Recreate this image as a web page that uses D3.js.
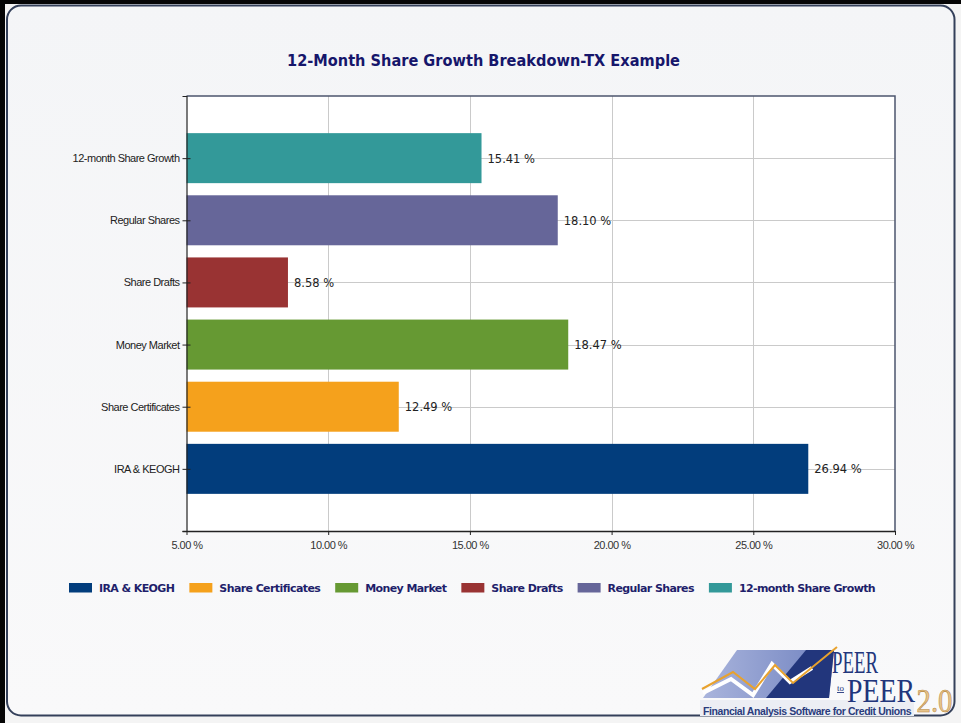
<!DOCTYPE html>
<html>
<head>
<meta charset="utf-8">
<script src="https://cdn.jsdelivr.net/npm/d3@7"></script>
<style>
  html, body { margin: 0; padding: 0; background: #f2f2f2; }
  svg { display: block; }
</style>
</head>
<body>
<svg id="chart" width="961" height="723"></svg>
<script>
// Share growth by account type (bottom-to-top order, same as legend order)
const categories = ["IRA & KEOGH", "Share Certificates", "Money Market", "Share Drafts", "Regular Shares", "12-month Share Growth"];
const growthPct = [26.94, 12.49, 18.47, 8.58, 18.10, 15.41];
const seriesColors = ["#023d7c", "#f5a11c", "#669933", "#993333", "#666699", "#339999"];
const xTickValues = [5, 10, 15, 20, 25, 30];
const titleText = "12-Month Share Growth Breakdown-TX Example";

const svg = d3.select("#chart");
const W = 961, H = 723;

// ---- outer frame and rounded panel ----
svg.append("rect").attr("x", 0).attr("y", 0).attr("width", W).attr("height", H).attr("fill", "#f4f4f4");
svg.append("rect").attr("x", 0).attr("y", 0).attr("width", W).attr("height", 4).attr("fill", "#050505");
svg.append("rect").attr("x", 0).attr("y", 0).attr("width", 5).attr("height", H).attr("fill", "#050505");

const defs = svg.append("defs");
const bg = defs.append("linearGradient").attr("id", "panelBg").attr("x1", 0).attr("y1", 0).attr("x2", 0).attr("y2", 1);
bg.append("stop").attr("offset", "0%").attr("stop-color", "#f4f5f7");
bg.append("stop").attr("offset", "100%").attr("stop-color", "#f9f9fa");

svg.append("rect")
  .attr("x", 7).attr("y", 5.5).attr("width", 947.5).attr("height", 710)
  .attr("rx", 14).attr("ry", 14)
  .attr("fill", "url(#panelBg)")
  .attr("stroke", "#34405a").attr("stroke-width", 2);

// ---- title ----
svg.append("text")
  .attr("x", 483.5).attr("y", 66)
  .attr("text-anchor", "middle")
  .attr("font-family", "DejaVu Sans, Verdana, sans-serif")
  .attr("font-weight", "bold")
  .attr("font-size", 15)
  .attr("fill", "#16166b")
  .attr("textLength", 393)
  .attr("lengthAdjust", "spacingAndGlyphs")
  .text(titleText);

// ---- plot area ----
const plot = { left: 186.5, right: 895, top: 96, bottom: 531 };

const x = d3.scaleLinear().domain([5, 30]).range([plot.left, plot.right]);
const y = d3.scalePoint().domain(categories.slice().reverse()).range([plot.top, plot.bottom]).padding(1);
const barH = 50;

svg.append("rect")
  .attr("x", plot.left).attr("y", plot.top)
  .attr("width", plot.right - plot.left).attr("height", plot.bottom - plot.top)
  .attr("fill", "#ffffff");

// grid lines
const grid = svg.append("g").attr("stroke", "#cacaca").attr("stroke-width", 1);
grid.selectAll("line.v").data(xTickValues.slice(1, -1)).join("line")
  .attr("x1", d => Math.round(x(d)) + 0.5).attr("x2", d => Math.round(x(d)) + 0.5)
  .attr("y1", plot.top).attr("y2", plot.bottom);
grid.selectAll("line.h").data(categories).join("line")
  .attr("x1", plot.left).attr("x2", plot.right)
  .attr("y1", d => Math.round(y(d)) + 0.5).attr("y2", d => Math.round(y(d)) + 0.5);

// bars
svg.append("g").selectAll("rect").data(categories).join("rect")
  .attr("x", plot.left)
  .attr("y", d => y(d) - barH / 2)
  .attr("width", (d, i) => x(growthPct[i]) - plot.left)
  .attr("height", barH)
  .attr("fill", (d, i) => seriesColors[i]);

// value labels
const fmtPct = d3.format(".2f");
svg.append("g").selectAll("text").data(categories).join("text")
  .attr("x", (d, i) => x(growthPct[i]) + 6)
  .attr("y", d => y(d) + 4.5)
  .attr("font-family", "DejaVu Sans, Verdana, sans-serif")
  .attr("font-size", 11.5)
  .attr("fill", "#222222")
  .text((d, i) => fmtPct(growthPct[i]) + " %");

// top and right frame
svg.append("path")
  .attr("d", `M${plot.left},${plot.top}H${plot.right}V${plot.bottom}`)
  .attr("fill", "none").attr("stroke", "#4c566e").attr("stroke-width", 1.5);

// y axis
const yAxis = svg.append("g")
  .attr("transform", `translate(${plot.left},0)`)
  .call(d3.axisLeft(y).tickSizeInner(4).tickSizeOuter(4).tickPadding(3));
yAxis.select(".domain").attr("stroke", "#222").attr("stroke-width", 1.2);
yAxis.selectAll(".tick line").attr("x1", 4).attr("stroke", "#222");
yAxis.selectAll(".tick text")
  .attr("font-family", "Liberation Sans, Arial, sans-serif")
  .attr("font-size", 11)
  .attr("letter-spacing", "-0.5px")
  .attr("fill", "#222");

// x axis
const xAxis = svg.append("g")
  .attr("transform", `translate(0,${plot.bottom})`)
  .call(d3.axisBottom(x).tickValues(xTickValues).tickFormat(d => fmtPct(d) + " %")
    .tickSizeInner(4).tickSizeOuter(0).tickPadding(6));
xAxis.select(".domain").attr("stroke", "#222").attr("stroke-width", 1.5)
  .attr("d", `M${plot.left - 4},0.5H${plot.right}`);
xAxis.selectAll(".tick line").attr("stroke", "#222");
xAxis.selectAll(".tick text")
  .attr("font-family", "Liberation Sans, Arial, sans-serif")
  .attr("font-size", 11)
  .attr("letter-spacing", "-0.5px")
  .attr("fill", "#333");

// ---- legend ----
const legend = svg.append("g").attr("transform", "translate(69,583)");
let lx = 0;
categories.forEach((name, i) => {
  const item = legend.append("g").attr("transform", `translate(${lx},0)`);
  item.append("rect").attr("width", 23).attr("height", 9.5).attr("fill", seriesColors[i]);
  const t = item.append("text")
    .attr("x", 30).attr("y", 8.8)
    .attr("font-family", "DejaVu Sans, Verdana, sans-serif")
    .attr("font-weight", "bold")
    .attr("font-size", 11)
    .attr("letter-spacing", "-0.6px")
    .attr("fill", "#1f1f6b")
    .text(name);
  lx += 30 + t.node().getComputedTextLength() + 15;
});

// ---- product logo ----
const logo = svg.append("g");
const lg = defs.append("linearGradient").attr("id", "logoBlue").attr("x1", 0).attr("y1", 0).attr("x2", 1).attr("y2", 0);
lg.append("stop").attr("offset", "0%").attr("stop-color", "#a9b4dc");
lg.append("stop").attr("offset", "100%").attr("stop-color", "#7183c0");
logo.append("rect").attr("x", 700).attr("y", 700).attr("width", 214).attr("height", 16).attr("fill", "#eceef4");
logo.append("path").attr("d", "M703,698 L737,650 L834,650 L829,698 Z").attr("fill", "url(#logoBlue)");
logo.append("path").attr("d", "M766,698 L806,650 L834,650 L829,698 Z").attr("fill", "#22367c");
logo.append("polyline")
  .attr("points", "703,693 731,679 753,695 772,664 790,682 812,668")
  .attr("fill", "none").attr("stroke", "#ffffff").attr("stroke-width", 4).attr("stroke-linejoin", "miter");
logo.append("polyline")
  .attr("points", "702,689 733,672 755,689 775,665 793,683 837,647")
  .attr("fill", "none").attr("stroke", "#e8a22e").attr("stroke-width", 2);

// wordmark: PEER / to / PEER 2.0 (condensed by horizontal scaling)
const serif = "Liberation Serif, Times New Roman, serif";
function condensed(str, x0, y0, size, width, fill) {
  const t = logo.append("text").attr("font-family", serif).attr("font-size", size)
    .attr("fill", fill).text(str);
  const natural = t.node().getComputedTextLength();
  t.attr("transform", `translate(${x0},${y0}) scale(${width / natural},1)`);
  return t;
}
condensed("PEER", 832, 673, 32, 46, "#22367c");
logo.append("text").attr("x", 837).attr("y", 691).attr("font-family", serif).attr("font-size", 9)
  .attr("fill", "#22367c").attr("text-decoration", "underline").text("to");
condensed("PEER", 847, 702, 34, 68, "#22367c");
condensed("2.0", 916.5, 712, 34, 36, "#e6c48c")
  .attr("stroke", "#b8873c").attr("stroke-width", 0.6);

logo.append("text").attr("x", 703).attr("y", 714.5)
  .attr("font-family", "Liberation Sans, Arial, sans-serif").attr("font-weight", "bold").attr("font-size", 10.5)
  .attr("letter-spacing", "-0.42px")
  .attr("fill", "#2a3c7c")
  .text("Financial Analysis Software for Credit Unions");
</script>
</body>
</html>
